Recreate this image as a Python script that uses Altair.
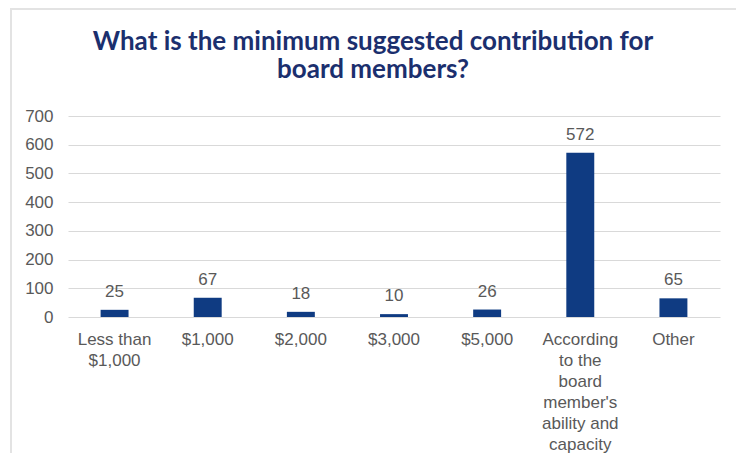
import altair as alt
import pandas as pd

categories = ["Less than|$1,000", "$1,000", "$2,000", "$3,000", "$5,000",
              "According|to the|board|member's|ability and|capacity", "Other"]
values = [25, 67, 18, 10, 26, 572, 65]
y_ticks = [0, 100, 200, 300, 400, 500, 600, 700]
title_lines = ["What is the minimum suggested contribution for", "board members?"]

df = pd.DataFrame({"cat": categories, "val": values})

x_enc = alt.X("cat:N", sort=categories, title=None,
              scale=alt.Scale(paddingInner=0.7, paddingOuter=0.35),
              axis=alt.Axis(labelExpr="split(datum.label, '|')", labelAngle=0,
                            labelFont="Liberation Sans", labelFontSize=17,
                            labelColor="#595959", labelLineHeight=21,
                            labelPadding=14, labelBaseline="top",
                            ticks=False, domain=False, labelLimit=200))
y_enc = alt.Y("val:Q", title=None,
              scale=alt.Scale(domain=[0, 700], nice=False),
              axis=alt.Axis(values=y_ticks, labelFont="Liberation Sans",
                            labelFontSize=17, labelColor="#595959",
                            labelPadding=15, ticks=False, domain=False,
                            labelOverlap=False,
                            gridColor="#d9d9d9", gridWidth=1))

base = alt.Chart(df).encode(x=x_enc, y=y_enc)
bars = base.mark_bar(color="#0f3b82")
labels = base.mark_text(
    font="Liberation Sans", fontSize=17, color="#595959",
    baseline="alphabetic", dy=-13
).encode(text="val:Q")

frame_left = alt.Chart(df).mark_rule(color="#e3e3e3", strokeWidth=1.5).encode(
    x=alt.value(-57), y=alt.value(-108), y2=alt.value(345))
frame_top = alt.Chart(df).mark_rule(color="#e3e3e3", strokeWidth=1.5).encode(
    x=alt.value(-57), x2=alt.value(700), y=alt.value(-107))

chart = alt.layer(frame_left, frame_top, bars, labels).properties(
    width=652, height=201,
    autosize=alt.AutoSizeParams(type="none"),
    padding={"left": 60, "top": 108, "right": 16, "bottom": 136},
    title=alt.TitleParams(title_lines, anchor="middle", frame="group",
                          font="Lato", fontSize=26, fontWeight="bold",
                          color="#1b2f6e", lineHeight=28, offset=-97,
                          baseline="alphabetic", dx=-21),
).configure_view(stroke=None)

chart.save("out.html", embed_options={"renderer": "svg", "actions": False})
